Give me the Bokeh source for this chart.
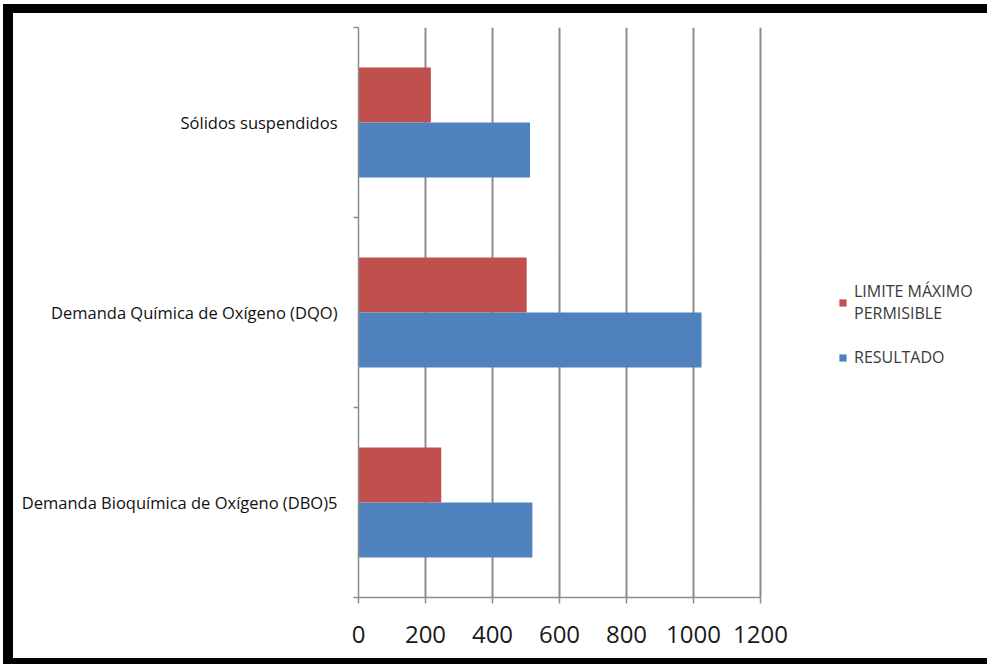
from bokeh.plotting import figure
from bokeh.layouts import column
from bokeh.models import Range1d, FixedTicker, Legend, LegendItem, ColumnDataSource
from bokeh.transform import dodge
from bokeh.embed import file_html
from bokeh.resources import INLINE

# ---- data (bottom to top) ----
categories = [
    "Demanda Bioquímica de Oxígeno (DBO)5",
    "Demanda Química de Oxígeno (DQO)",
    "Sólidos suspendidos",
]
limite_maximo = [247, 502, 216]
resultado = [519, 1024, 512]
series_names = ["LIMITE MÁXIMO\nPERMISIBLE", "RESULTADO"]
x_ticks = [0, 200, 400, 600, 800, 1000, 1200]

RED = "#C0504D"
BLUE = "#4F81BD"
GRID = "#8c8c8c"

# layout: plot area 0..1200 spans 402 px; frame continues to the right edge for the legend
FIG_W, FIG_H = 974, 645
BORDER_L = 345
AXIS_PX = 402
x_max = x_ticks[-1]
x_end = x_max * (FIG_W - BORDER_L) / AXIS_PX

centers = [i + 0.5 for i in range(len(categories))]
bounds = [i for i in range(len(categories) + 1)]
src = ColumnDataSource(dict(c=centers, lim=limite_maximo, res=resultado))

p = figure(
    width=FIG_W, height=FIG_H,
    x_range=Range1d(0, x_end), y_range=Range1d(0, len(categories)),
    output_backend="svg", toolbar_location=None,
    min_border_left=BORDER_L, min_border_right=0, min_border_top=14, min_border_bottom=61,
    outline_line_color=None, background_fill_color="white", border_fill_color="white",
)
p.styles = {"background-color": "white"}

bar_h = 0.29
r_lim = p.hbar(y=dodge("c", bar_h / 2, range=p.y_range), right="lim", left=0, height=bar_h,
               source=src, fill_color=RED, line_color=None)
r_res = p.hbar(y=dodge("c", -bar_h / 2, range=p.y_range), right="res", left=0, height=bar_h,
               source=src, fill_color=BLUE, line_color=None)

# x axis
xa = p.xaxis[0]
xa.ticker = FixedTicker(ticks=x_ticks)
xa.bounds = (0, x_max)
xa.major_tick_out = 6
xa.major_tick_in = 0
xa.minor_tick_out = 0
xa.axis_line_color = GRID
xa.axis_line_width = 1.5
xa.major_tick_line_color = GRID
xa.major_tick_line_width = 1.5
xa.major_label_text_font = "Open Sans"
xa.major_label_text_font_size = "24px"
xa.major_label_text_color = "#1a1a1a"
xa.major_label_standoff = 22

# y axis
ya = p.yaxis[0]
ya.ticker = FixedTicker(ticks=centers, minor_ticks=bounds)
ya.major_label_overrides = {c: name for c, name in zip(centers, categories)}
ya.major_tick_out = 0
ya.major_tick_in = 0
ya.minor_tick_out = 5
ya.minor_tick_in = 0
ya.minor_tick_line_color = GRID
ya.minor_tick_line_width = 1.5
ya.axis_line_color = GRID
ya.axis_line_width = 1.5
ya.major_label_text_font = "Open Sans"
ya.major_label_text_font_size = "16.5px"
ya.major_label_text_color = "#111111"
ya.major_label_standoff = 16

p.xgrid.ticker = FixedTicker(ticks=x_ticks[1:])
p.xgrid.grid_line_color = GRID
p.xgrid.grid_line_width = 2
p.ygrid.visible = False

legend = Legend(
    items=[LegendItem(label=series_names[0], renderers=[r_lim]),
           LegendItem(label=series_names[1], renderers=[r_res])],
    location=(480, 229),
    background_fill_alpha=0, border_line_color=None,
    padding=0, margin=0, spacing=22,
    glyph_width=9, glyph_height=9, label_standoff=7,
    label_text_font="Open Sans", label_text_font_size="16px", label_text_color="#3a3a3a",
    label_text_line_height=1.4,
)
p.add_layout(legend, "center")

page = column(p, styles={
    "background-color": "black",
    "padding": "9px 0px 6px 10px",
    "margin": "4px 0px 0px 3px",
})

open("out.html", "w").write(file_html(page, INLINE))
